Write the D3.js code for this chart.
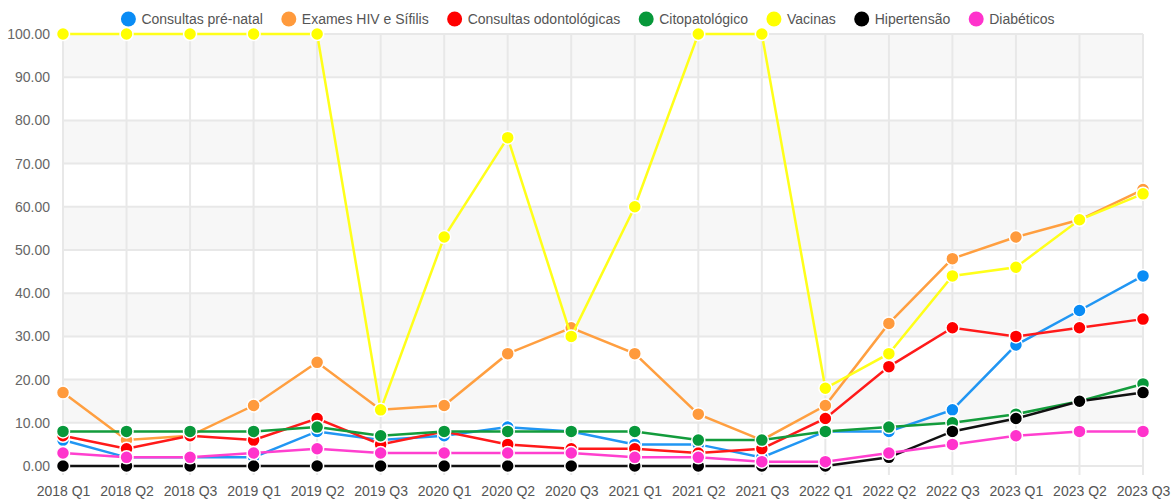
<!DOCTYPE html>
<html>
<head>
<meta charset="utf-8">
<script src="https://cdn.jsdelivr.net/npm/d3@7"></script>
<style>
  body { margin: 0; background: #fff; }
  svg { display: block; font-family: "Liberation Sans", Arial, sans-serif; }
</style>
</head>
<body>
<div id="chart"></div>
<script>
// quarters on the x axis
var quarters = ["2018 Q1", "2018 Q2", "2018 Q3", "2019 Q1", "2019 Q2", "2019 Q3",
  "2020 Q1", "2020 Q2", "2020 Q3", "2021 Q1", "2021 Q2", "2021 Q3",
  "2022 Q1", "2022 Q2", "2022 Q3", "2023 Q1", "2023 Q2", "2023 Q3"];

var yTicks = [0, 10, 20, 30, 40, 50, 60, 70, 80, 90, 100];

// series values (%)
var preNatal      = [6, 2, 2, 2, 8, 6, 7, 9, 8, 5, 5, 2, 8, 8, 13, 28, 36, 44];
var hivSifilis    = [17, 6, 7, 14, 24, 13, 14, 26, 32, 26, 12, 6, 14, 33, 48, 53, 57, 64];
var odonto        = [7, 4, 7, 6, 11, 5, 8, 5, 4, 4, 3, 4, 11, 23, 32, 30, 32, 34];
var citopato      = [8, 8, 8, 8, 9, 7, 8, 8, 8, 8, 6, 6, 8, 9, 10, 12, 15, 19];
var vacinas       = [100, 100, 100, 100, 100, 13, 53, 76, 30, 60, 100, 100, 18, 26, 44, 46, 57, 63];
var hipertensao   = [0, 0, 0, 0, 0, 0, 0, 0, 0, 0, 0, 0, 0, 2, 8, 11, 15, 17];
var diabeticos    = [3, 2, 2, 3, 4, 3, 3, 3, 3, 2, 2, 1, 1, 3, 5, 7, 8, 8];

var seriesNames = ["Consultas pré-natal", "Exames HIV e Sífilis", "Consultas odontológicas",
  "Citopatológico", "Vacinas", "Hipertensão", "Diabéticos"];
var seriesColors = ["#2196f3", "#ff9f40", "#ff1a1a", "#139c3c", "#ffff1a", "#111111", "#ff40cf"];
var legendColors = ["#0a8cf5", "#ff9a3c", "#ff0000", "#07983a", "#ffff00", "#000000", "#ff33cc"];
var seriesValues = [preNatal, hivSifilis, odonto, citopato, vacinas, hipertensao, diabeticos];

var width = 1172, height = 499;
var plotLeft = 63, plotRight = 1143, plotTop = 34, plotBottom = 466;

var svg = d3.select('#chart').append('svg')
  .attr('width', width)
  .attr('height', height);

var x = d3.scalePoint().domain(quarters).range([plotLeft, plotRight]);
var y = d3.scaleLinear().domain([0, 100]).range([plotBottom, plotTop]);

// alternating bands
var bands = d3.range(0, 100, 10);
svg.append('g').selectAll('rect')
  .data(bands)
  .enter()
  .append('rect')
  .attr('x', plotLeft)
  .attr('width', plotRight - plotLeft)
  .attr('y', function (d) { return y(d + 10); })
  .attr('height', function (d) { return y(d) - y(d + 10); })
  .style('fill', function (d) { return (d / 10) % 2 === 1 ? '#f7f7f7' : '#ffffff'; });

// horizontal grid
svg.append('g').selectAll('line')
  .data(yTicks)
  .enter()
  .append('line')
  .attr('x1', plotLeft).attr('x2', plotRight)
  .attr('y1', function (d) { return y(d); })
  .attr('y2', function (d) { return y(d); })
  .style('stroke', '#e8e8e8')
  .style('stroke-width', 2);

// vertical grid
svg.append('g').selectAll('line')
  .data(quarters)
  .enter()
  .append('line')
  .attr('x1', function (d) { return x(d); })
  .attr('x2', function (d) { return x(d); })
  .attr('y1', plotTop).attr('y2', plotBottom + 9)
  .style('stroke', '#e8e8e8')
  .style('stroke-width', 2);

// y axis labels
var yAxis = d3.axisLeft(y).tickValues(yTicks).tickSize(0).tickPadding(13)
  .tickFormat(d3.format('.2f'));
svg.append('g')
  .attr('transform', 'translate(' + plotLeft + ',0)')
  .call(yAxis)
  .call(function (g) { g.select('.domain').remove(); })
  .selectAll('text')
  .style('font-size', '14px')
  .style('fill', '#666')
  .style('font-family', '"Liberation Sans", Arial, sans-serif');

// x axis labels
var xAxis = d3.axisBottom(x).tickSize(0).tickPadding(20);
svg.append('g')
  .attr('transform', 'translate(0,' + plotBottom + ')')
  .call(xAxis)
  .call(function (g) { g.select('.domain').remove(); })
  .selectAll('text')
  .style('font-size', '14px')
  .style('fill', '#555')
  .style('font-family', '"Liberation Sans", Arial, sans-serif');

var line = d3.line()
  .x(function (d, i) { return x(quarters[i]); })
  .y(function (d) { return y(d); });

// later series on top
seriesValues.forEach(function (vals, k) {
  var g = svg.append('g');
  g.append('path')
    .datum(vals)
    .attr('d', line)
    .style('fill', 'none')
    .style('stroke', seriesColors[k])
    .style('stroke-width', 2.5);
  g.selectAll('circle')
    .data(vals)
    .enter()
    .append('circle')
    .attr('cx', function (d, i) { return x(quarters[i]); })
    .attr('cy', function (d) { return y(d); })
    .attr('r', 6.5)
    .style('fill', legendColors[k])
    .style('stroke', '#fff')
    .style('stroke-width', 1.5);
});

// legend
var legend = svg.append('g');
var items = legend.selectAll('g')
  .data(seriesNames)
  .enter()
  .append('g');
items.append('circle')
  .attr('r', 7.5)
  .attr('cy', 19)
  .style('fill', function (d, i) { return legendColors[i]; });
items.append('text')
  .attr('y', 24)
  .attr('x', 13)
  .text(function (d) { return d; })
  .style('font-size', '14px')
  .style('fill', '#555');

var pos = 0;
items.each(function (d, i) {
  var w = d3.select(this).select('text').node().getComputedTextLength();
  d3.select(this).attr('data-x', pos);
  pos += 7 + 13 + w + 19;
});
var total = pos - 19;
var start = 588 - total / 2 + 7;
items.attr('transform', function () {
  return 'translate(' + (start + (+d3.select(this).attr('data-x'))) + ',0)';
});
</script>
</body>
</html>
